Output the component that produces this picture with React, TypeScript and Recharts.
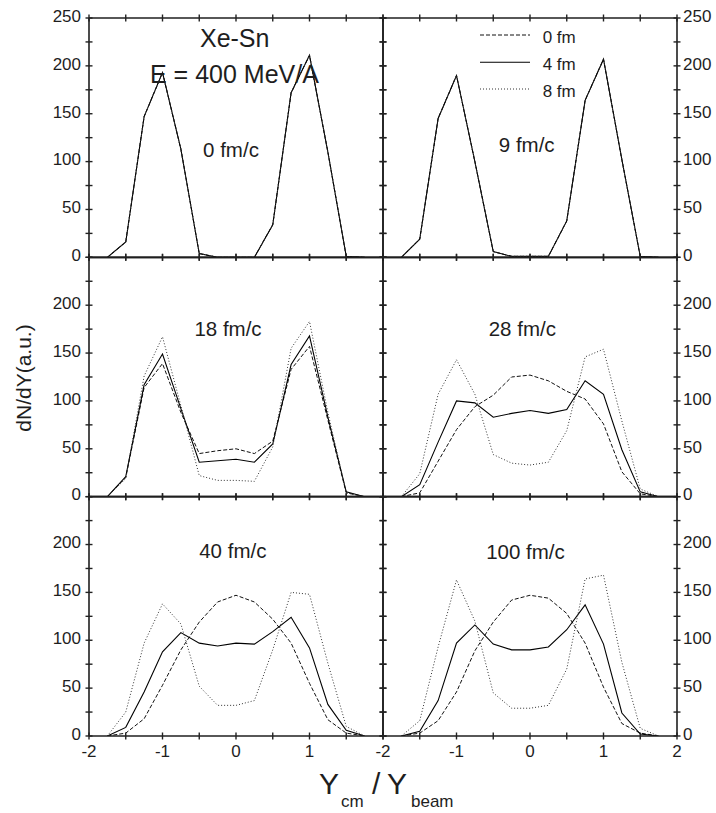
import React from 'react';
import { LineChart, Line, XAxis, YAxis } from 'recharts';

const W = 716;
const H = 813;

// rapidity Y_cm / Y_beam sample points
const rapidity = [-1.75, -1.5, -1.25, -1, -0.75, -0.5, -0.25, 0, 0.25, 0.5, 0.75, 1, 1.25, 1.5, 1.75];
const xTicks = [-2, -1.5, -1, -0.5, 0, 0.5, 1, 1.5, 2];
const yTicks = [0, 25, 50, 75, 100, 125, 150, 175, 200, 225, 250];

// 0 fm/c
const t0_b0 = [0, 16, 147, 193, 113, 4, 0, 0, 0, 34, 172, 211, 110, 1, 0];
const t0_b4 = [0, 16, 147, 193, 113, 4, 0, 0, 0, 34, 172, 211, 110, 1, 0];
const t0_b8 = [0, 16, 147, 193, 113, 4, 0, 0, 0, 34, 172, 211, 110, 1, 0];
// 9 fm/c
const t9_b0 = [0, 19, 145, 190, 100, 6, 1, 1, 1, 38, 164, 207, 102, 1, 0];
const t9_b4 = [0, 19, 145, 190, 100, 6, 1, 1, 1, 38, 164, 207, 102, 1, 0];
const t9_b8 = [0, 19, 145, 190, 100, 6, 1, 1, 1, 38, 164, 207, 102, 1, 0];
// 18 fm/c
const t18_b0 = [0, 20, 114, 139, 88, 45, 48, 50, 45, 58, 133, 157, 80, 4, 0];
const t18_b4 = [0, 21, 117, 149, 92, 36, 37.5, 39, 36, 55, 138, 168, 83, 5, 0];
const t18_b8 = [0, 19, 126, 167, 95, 22, 17, 17, 16, 52, 155, 183, 88, 4, 0];
// 28 fm/c
const t28_b0 = [0, 4, 37, 70, 94, 106, 125, 127, 121, 110, 102, 76, 26, 3, 0];
const t28_b4 = [0, 12.5, 57, 100, 98, 83, 87, 90, 87, 91, 121, 107, 49, 5, 0];
const t28_b8 = [0, 24, 107, 143, 107, 44, 35, 33, 36, 69, 146, 154, 79, 8, 0];
// 40 fm/c
const t40_b0 = [0, 3, 18, 53, 90, 119, 140, 147, 140, 122, 97, 55, 17, 3, 0];
const t40_b4 = [0, 9, 46, 88, 108, 97, 94, 97, 96, 109, 124, 92, 33, 6, 0];
const t40_b8 = [0, 25, 97, 138, 117, 52, 32, 32, 37, 90, 150, 148, 76, 10, 0];
// 100 fm/c
const t100_b0 = [0, 3, 16, 46, 89, 119, 142, 147, 144, 128, 97, 51, 13, 3, 0];
const t100_b4 = [0, 5, 37, 97, 116, 96, 90, 90, 93, 111, 137, 96, 24, 2, 0];
const t100_b8 = [0, 16, 93, 163, 120, 45, 29, 29, 32, 70, 164, 168, 77, 8, 0];

const timeLabels = ['0 fm/c', '9 fm/c', '18 fm/c', '28 fm/c', '40 fm/c', '100 fm/c'];
const legendLabels = ['0 fm', '4 fm', '8 fm'];

const FONT = "'Liberation Sans', Arial, Helvetica, sans-serif";
const AXIS = '#1f1f1f';
const TICK = '#222';
const TEXT = '#1e1e1e';
const TK = 3.5; // tick half-length

const seriesStyle = [
  { key: 'b0', dash: '4 2', color: '#111', width: 1 },
  { key: 'b4', dash: undefined, color: '#000', width: 1.1 },
  { key: 'b8', dash: '1 2', color: '#333', width: 1 },
];

const panels = [
  { label: timeLabels[0], b0: t0_b0, b4: t0_b4, b8: t0_b8, col: 0, row: 0, lx: 231, ly: 156.7 },
  { label: timeLabels[1], b0: t9_b0, b4: t9_b4, b8: t9_b8, col: 1, row: 0, lx: 526.7, ly: 151.7 },
  { label: timeLabels[2], b0: t18_b0, b4: t18_b4, b8: t18_b8, col: 0, row: 1, lx: 228, ly: 336 },
  { label: timeLabels[3], b0: t28_b0, b4: t28_b4, b8: t28_b8, col: 1, row: 1, lx: 522.3, ly: 336 },
  { label: timeLabels[4], b0: t40_b0, b4: t40_b4, b8: t40_b8, col: 0, row: 2, lx: 232.8, ly: 558.3 },
  { label: timeLabels[5], b0: t100_b0, b4: t100_b4, b8: t100_b8, col: 1, row: 2, lx: 525.5, ly: 559 },
];

const COL_X = [89, 383];
const PANEL_W = 294;
const TOP = 18;
const PANEL_H = 239.33;

type Side = 'left' | 'right' | 'top' | 'bottom';

// The library draws the outer half of each tick (tickSize = TK); x/y below sit at the
// outer tick end, so the inner half runs from TK to 2*TK inward.
function makeTick(side: Side, show: (v: number) => boolean) {
  return (props: any) => {
    const { x, y, payload } = props;
    const v = payload.value as number;
    const label = show(v) ? String(v) : null;
    let inner = null;
    if (side === 'left') inner = <line x1={x + TK} x2={x + 2 * TK} y1={y} y2={y} stroke={TICK} strokeWidth={1.4} />;
    if (side === 'right') inner = <line x1={x - TK} x2={x - 2 * TK} y1={y} y2={y} stroke={TICK} strokeWidth={1.4} />;
    if (side === 'top') inner = <line x1={x} x2={x} y1={y + TK} y2={y + 2 * TK} stroke={TICK} strokeWidth={1.4} />;
    if (side === 'bottom') inner = <line x1={x} x2={x} y1={y - TK} y2={y - 2 * TK} stroke={TICK} strokeWidth={1.4} />;
    return (
      <g>
        {inner}
        {label !== null && side === 'left' && (
          <text x={x - 4.5} y={y + 3.8} textAnchor="end" fontFamily={FONT} fontSize={17} fill={TEXT}>
            {label}
          </text>
        )}
        {label !== null && side === 'right' && (
          <text x={x + 2.5} y={y + 3.8} textAnchor="start" fontFamily={FONT} fontSize={17} fill={TEXT}>
            {label}
          </text>
        )}
        {label !== null && side === 'bottom' && (
          <text x={x} y={y + 17.5} textAnchor="middle" fontFamily={FONT} fontSize={17} fill={TEXT}>
            {label}
          </text>
        )}
      </g>
    );
  };
}

const none = () => false;

function Panel({ p }: { p: (typeof panels)[number] }) {
  const L = COL_X[p.col];
  const R = L + PANEL_W;
  const T = TOP + p.row * PANEL_H;
  const B = T + PANEL_H;
  const margin = { left: L - 30, right: W - R - 30, top: T - 10, bottom: H - B - 30 };
  const rows = rapidity.map((x, i) => ({ x, b0: p.b0[i], b4: p.b4[i], b8: p.b8[i] }));
  const yShow = (v: number) => v % 50 === 0 && (p.row === 0 || v < 250);
  const xShow = (v: number) => p.row === 2 && Number.isInteger(v) && (p.col === 1 || v < 2);
  const axisLine = { stroke: AXIS, strokeWidth: 1.6 };
  const tickLine = { stroke: TICK, strokeWidth: 1.4 };
  return (
    <div style={{ position: 'absolute', left: 0, top: 0 }}>
      <LineChart width={W} height={H} data={rows} margin={margin}>
        <XAxis
          xAxisId="b"
          orientation="bottom"
          type="number"
          dataKey="x"
          domain={[-2, 2]}
          ticks={xTicks}
          interval={0}
          height={30}
          tickSize={TK}
          tickMargin={0}
          tickLine={tickLine}
          axisLine={axisLine}
          tick={makeTick('bottom', xShow)}
          allowDataOverflow
        />
        <XAxis
          xAxisId="t"
          orientation="top"
          type="number"
          dataKey="x"
          domain={[-2, 2]}
          ticks={xTicks}
          interval={0}
          height={10}
          tickSize={TK}
          tickMargin={0}
          tickLine={tickLine}
          axisLine={axisLine}
          tick={makeTick('top', none)}
          allowDataOverflow
        />
        <YAxis
          yAxisId="l"
          orientation="left"
          type="number"
          domain={[0, 250]}
          ticks={yTicks}
          interval={0}
          width={30}
          tickSize={TK}
          tickMargin={0}
          tickLine={tickLine}
          axisLine={axisLine}
          tick={makeTick('left', p.col === 0 ? yShow : none)}
          allowDataOverflow
        />
        <YAxis
          yAxisId="r"
          orientation="right"
          type="number"
          domain={[0, 250]}
          ticks={yTicks}
          interval={0}
          width={30}
          tickSize={TK}
          tickMargin={0}
          tickLine={tickLine}
          axisLine={axisLine}
          tick={makeTick('right', p.col === 1 ? yShow : none)}
          allowDataOverflow
        />
        {seriesStyle.map((s) => (
          <Line
            key={s.key}
            xAxisId="b"
            yAxisId="l"
            type="linear"
            dataKey={s.key}
            stroke={s.color}
            strokeWidth={s.width}
            strokeDasharray={s.dash}
            dot={false}
            activeDot={false}
            isAnimationActive={false}
          />
        ))}
      </LineChart>
    </div>
  );
}

function Annotations() {
  const legendY = [35, 62.3, 89];
  return (
    <svg
      width={W}
      height={H}
      style={{ position: 'absolute', left: 0, top: 0, pointerEvents: 'none' }}
      fontFamily={FONT}
    >
      <text x={234.7} y={46.7} textAnchor="middle" fontSize={25} fill={TEXT}>
        Xe-Sn
      </text>
      <text x={150} y={82.7} textAnchor="start" fontSize={25} fill={TEXT}>
        E = 400 MeV/A
      </text>
      {panels.map((p) => (
        <text key={p.label} x={p.lx} y={p.ly} textAnchor="middle" fontSize={20.5} fill={TEXT}>
          {p.label}
        </text>
      ))}
      {seriesStyle.map((s, i) => (
        <g key={s.key}>
          <line
            x1={480}
            x2={530}
            y1={legendY[i]}
            y2={legendY[i]}
            stroke={s.color}
            strokeWidth={s.width}
            strokeDasharray={s.dash}
          />
          <text x={542.7} y={legendY[i] + 7.5} fontSize={17} fill={TEXT}>
            {legendLabels[i]}
          </text>
        </g>
      ))}
      <text
        x={31}
        y={378}
        transform="rotate(-90 31 378)"
        textAnchor="middle"
        fontSize={21}
        fill={TEXT}
      >
        dN/dY(a.u.)
      </text>
      <text x={319} y={794} fontSize={30} fill={TEXT}>Y</text>
      <text x={341} y={807} fontSize={17} fill={TEXT}>cm</text>
      <text x={372} y={794} fontSize={30} fill={TEXT}>/</text>
      <text x={387} y={794} fontSize={30} fill={TEXT}>Y</text>
      <text x={411} y={807} fontSize={17} fill={TEXT}>beam</text>
    </svg>
  );
}

export default function App() {
  return (
    <div style={{ position: 'absolute', left: 0, top: 0, width: W, height: H, background: '#fff' }}>
      {panels.map((p) => (
        <Panel key={p.label} p={p} />
      ))}
      <Annotations />
    </div>
  );
}
